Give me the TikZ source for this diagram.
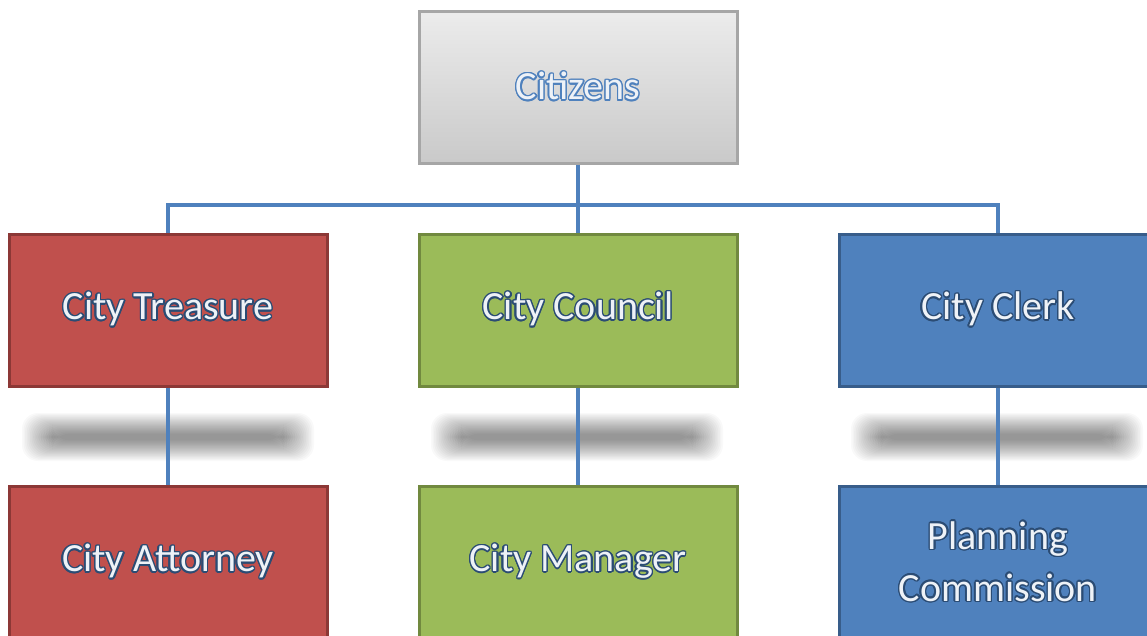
\documentclass[tikz,border=0pt]{standalone}
\usepackage{fontspec}
\setmainfont{Carlito}
\usepackage{contour}
\usetikzlibrary{calc,positioning}
\contourlength{1.4pt}
\definecolor{linkblue}{HTML}{4F81BD}
\definecolor{inkblue}{HTML}{2B4C74}
\definecolor{textwhite}{HTML}{EEF2F7}
\definecolor{treasred}{HTML}{C0504D}
\definecolor{treasredline}{HTML}{8C3836}
\definecolor{councilgreen}{HTML}{9BBB59}
\definecolor{councilgreenline}{HTML}{71893F}
\definecolor{clerkblue}{HTML}{4F81BD}
\definecolor{clerkblueline}{HTML}{385D8A}
\newcommand{\boxlabel}[2][inkblue]{\contour{#1}{\textcolor{textwhite}{#2}}}
\newcommand{\floorshadow}[2]{% {centre x}{centre y}
  \foreach \k in {0,...,19}
    \fill[black,opacity=0.022,rounded corners=16pt]
      ($(#1,#2)+(-146+1.6*\k,-24+1.1*\k)$) rectangle ($(#1,#2)+(146-1.6*\k,24-1.1*\k)$);
}

\begin{document}
\begin{tikzpicture}[x=1pt,y=-1pt,
  orgbox/.style={minimum width=318pt,minimum height=152pt,line width=3pt,
    inner sep=0pt,align=center,font=\fontsize{40}{52}\selectfont},
  redbox/.style={orgbox,fill=treasred,draw=treasredline},
  greenbox/.style={orgbox,fill=councilgreen,draw=councilgreenline},
  bluebox/.style={orgbox,fill=clerkblue,draw=clerkblueline},
  link/.style={linkblue,line width=4pt}]
  % Page
  \path[use as bounding box,clip] (0,0) rectangle (1147,635);
  \fill[white] (0,0) rectangle (1147,635);
  % Floor shadows between the rows
  \floorshadow{168}{437}
  \floorshadow{577}{437}
  \floorshadow{997}{437}
  % Top box
  \node[orgbox,draw=gray!70,top color=gray!15,bottom color=gray!42]
    (citizens) at (578,87) {\boxlabel[linkblue]{Citizens}};
  % Middle row
  \node[redbox] (treasure) at (168,310) {\boxlabel{City Treasure}};
  \node[greenbox] (council) at (578,310) {\boxlabel{City Council}};
  \node[bluebox] (clerk) at (998,310) {\boxlabel{City Clerk}};
  % Bottom row
  \node[redbox] (attorney) at (168,562) {\boxlabel{City Attorney}};
  \node[greenbox] (manager) at (578,562) {\boxlabel{City Manager}};
  \node[bluebox] (planning) at (998,562) {\boxlabel{Planning}\\\boxlabel{Commission}};
  % Connectors
  \coordinate (bus) at (578,205);
  \draw[link] (citizens.south) -- (bus);
  \draw[link] (treasure.north) |- (bus) -| (clerk.north);
  \draw[link] (bus) -- (council.north);
  \draw[link] (treasure.south) -- (attorney.north);
  \draw[link] (council.south) -- (manager.north);
  \draw[link] (clerk.south) -- (planning.north);
\end{tikzpicture}
\end{document}
